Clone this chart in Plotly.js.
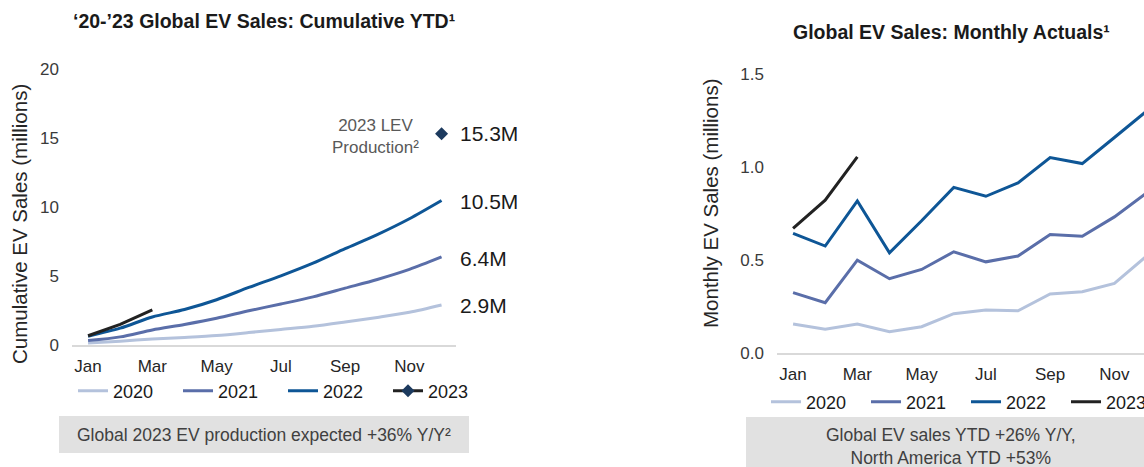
<!DOCTYPE html>
<html>
<head>
<meta charset="utf-8">
<script src="https://cdn.plot.ly/plotly-3.0.1.min.js"></script>
<style>
html,body{margin:0;padding:0;overflow:hidden;background:#fff;width:1144px;height:467px;}
#chart{width:1180px;height:467px;}
</style>
</head>
<body>
<div id="chart"></div>
<script>
// ---- data ----
const months = ['Jan','Feb','Mar','Apr','May','Jun','Jul','Aug','Sep','Oct','Nov','Dec'];
const tickMonths = ['Jan','Mar','May','Jul','Sep','Nov'];
const years = ['2020','2021','2022','2023'];

// cumulative YTD sales (millions)
const cum2020 = [0.15,0.28,0.43,0.55,0.69,0.90,1.13,1.36,1.67,2.00,2.37,2.90];
const cum2021 = [0.32,0.59,1.09,1.49,1.94,2.48,2.97,3.49,4.12,4.75,5.48,6.38];
const cum2022 = [0.64,1.22,2.03,2.57,3.28,4.17,5.01,5.93,6.98,8.00,9.15,10.47];
const cum2023 = [0.67,1.49,2.54];
const lev2023 = 15.3;
const endLabels = ['2.9M','6.4M','10.5M'];
const levLabel = '15.3M';

// monthly actual sales (millions)
const mon2020 = [0.154,0.126,0.154,0.113,0.140,0.210,0.230,0.226,0.316,0.328,0.373,0.52];
const mon2021 = [0.323,0.269,0.498,0.398,0.448,0.543,0.489,0.520,0.636,0.627,0.731,0.86];
const mon2022 = [0.642,0.574,0.817,0.538,0.71,0.89,0.842,0.914,1.050,1.018,1.158,1.30];
const mon2023 = [0.669,0.821,1.054];

// ---- styling ----
const colors = ['#b4c2dc','#5a6ea9','#0e5696','#222222'];
const navy = '#1c3a5e';
const FONT = 'Liberation Sans, Arial, sans-serif';
const W = 1180, H = 467;
const px = x => x / W;
const py = y => 1 - y / H;

const leftSeries = [cum2020, cum2021, cum2022];
const rightSeries = [mon2020, mon2021, mon2022, mon2023];

const traces = [];
leftSeries.forEach((s, i) => {
  traces.push({
    x: months.slice(0, s.length), y: s, name: years[i], type: 'scatter', mode: 'lines',
    line: {color: colors[i], width: 3, shape: 'spline', smoothing: 0.8},
    xaxis: 'x', yaxis: 'y', legend: 'legend', hoverinfo: 'skip'
  });
});
// 2023 cumulative line + LEV production diamond (one legend entry with diamond)
traces.push({
  x: ['Dec', 'Dec'].concat(months.slice(0, cum2023.length)),
  y: [lev2023, null].concat(cum2023),
  name: years[3], type: 'scatter', mode: 'lines+markers',
  line: {color: colors[3], width: 3},
  marker: {symbol: 'diamond', size: 10,
           color: [navy, 'rgba(0,0,0,0)'].concat(cum2023.map(() => 'rgba(0,0,0,0)')),
           line: {width: 0}},
  xaxis: 'x', yaxis: 'y', legend: 'legend', hoverinfo: 'skip'
});
rightSeries.forEach((s, i) => {
  traces.push({
    x: months.slice(0, s.length), y: s, name: years[i], type: 'scatter', mode: 'lines',
    line: {color: colors[i], width: 3},
    xaxis: 'x2', yaxis: 'y2', legend: 'legend2', hoverinfo: 'skip'
  });
});

const xCommon = {
  type: 'category', categoryorder: 'array', categoryarray: months,
  tickmode: 'array', tickvals: tickMonths, ticktext: tickMonths,
  range: [-0.5, 11.45], showgrid: false, zeroline: false,
  showline: true, linecolor: '#d9d9d9', linewidth: 2, ticks: '',
  tickfont: {family: FONT, size: 17, color: '#262626'}, ticklabelstandoff: 5, fixedrange: true
};
const yCommon = {
  showgrid: false, zeroline: false, showline: false, ticks: '',
  tickfont: {family: FONT, size: 17, color: '#3a3a3a'}, ticklabelstandoff: 12, fixedrange: true
};

const ann = [];
// titles
ann.push({xref:'paper', yref:'paper', x: px(264), y: py(21), xanchor:'center', yanchor:'middle', showarrow:false,
  text:'<b>‘20-’23 Global EV Sales: Cumulative YTD¹</b>', font:{family:FONT, size:19.5, color:'#1a1a1a'}});
ann.push({xref:'paper', yref:'paper', x: px(951), y: py(32), xanchor:'center', yanchor:'middle', showarrow:false,
  text:'<b>Global EV Sales: Monthly Actuals¹</b>', font:{family:FONT, size:19.5, color:'#1a1a1a'}});
// y titles
ann.push({xref:'paper', yref:'paper', x: px(19), y: py(224), xanchor:'center', yanchor:'middle', showarrow:false, textangle:-90,
  text:'Cumulative EV Sales (millions)', font:{family:FONT, size:20.5, color:'#262626'}});
ann.push({xref:'paper', yref:'paper', x: px(711), y: py(203), xanchor:'center', yanchor:'middle', showarrow:false, textangle:-90,
  text:'Monthly EV Sales (millions)', font:{family:FONT, size:20.5, color:'#262626'}});
// end labels
const endY = [2.85, 6.3, 10.4];
endLabels.forEach((t, i) => {
  ann.push({xref:'x', yref:'y', x:'Dec', y: endY[i], xanchor:'left', yanchor:'middle', xshift: 16, showarrow:false,
    text: t, font:{family:FONT, size:21, color:'#1a1a1a'}});
});
ann.push({xref:'x', yref:'y', x:'Dec', y: lev2023, xanchor:'left', yanchor:'middle', xshift: 16, showarrow:false,
  text: levLabel, font:{family:FONT, size:21, color:'#1a1a1a'}});
ann.push({xref:'paper', yref:'paper', x: px(375), y: py(136), xanchor:'center', yanchor:'middle', showarrow:false,
  text:'2023 LEV<br>Production²', font:{family:FONT, size:17, color:'#595959'}});
// captions
ann.push({xref:'paper', yref:'paper', x: px(264), y: py(435), xanchor:'center', yanchor:'middle', showarrow:false,
  text:'Global 2023 EV production expected +36% Y/Y²', font:{family:FONT, size:17.5, color:'#404040'}});
ann.push({xref:'paper', yref:'paper', x: px(951), y: py(446.5), xanchor:'center', yanchor:'middle', showarrow:false,
  text:'Global EV sales YTD +26% Y/Y,<br>North America YTD +53%', font:{family:FONT, size:17.5, color:'#404040'}});

const shapes = [
  {type:'rect', xref:'paper', yref:'paper', x0: px(59), x1: px(469), y0: py(453), y1: py(416), fillcolor:'#e1e1e1', line:{width:0}, layer:'below'},
  {type:'rect', xref:'paper', yref:'paper', x0: px(746), x1: px(1156), y0: py(480), y1: py(417), fillcolor:'#e1e1e1', line:{width:0}, layer:'below'}
];

const legendCommon = {orientation:'h', xanchor:'left', yanchor:'middle', bgcolor:'rgba(0,0,0,0)',
  font:{family:FONT, size:18, color:'#1a1a1a'}, entrywidthmode:'pixels', traceorder:'normal', itemclick:false, itemdoubleclick:false};

const layout = {
  width: W, height: H, margin:{l:0, r:0, t:0, b:0},
  paper_bgcolor:'#ffffff', plot_bgcolor:'#ffffff', showlegend: true,
  xaxis: Object.assign({}, xCommon, {domain:[px(72), px(456)], anchor:'y'}),
  yaxis: Object.assign({}, yCommon, {domain:[py(345), py(69)], range:[0, 20], tickvals:[0,5,10,15,20], anchor:'x'}),
  xaxis2: Object.assign({}, xCommon, {domain:[px(777), px(1161)], anchor:'y2'}),
  yaxis2: Object.assign({}, yCommon, {domain:[py(352.7), py(74)], range:[0, 1.5], tickvals:[0,0.5,1,1.5], tickformat:'.1f', anchor:'x2'}),
  legend: Object.assign({}, legendCommon, {x: px(73), y: py(391), entrywidth: 60}),
  legend2: Object.assign({}, legendCommon, {x: px(766), y: py(402), entrywidth: 55}),
  annotations: ann, shapes: shapes
};

Plotly.newPlot('chart', traces, layout, {staticPlot: true, displayModeBar: false});
</script>
</body>
</html>
